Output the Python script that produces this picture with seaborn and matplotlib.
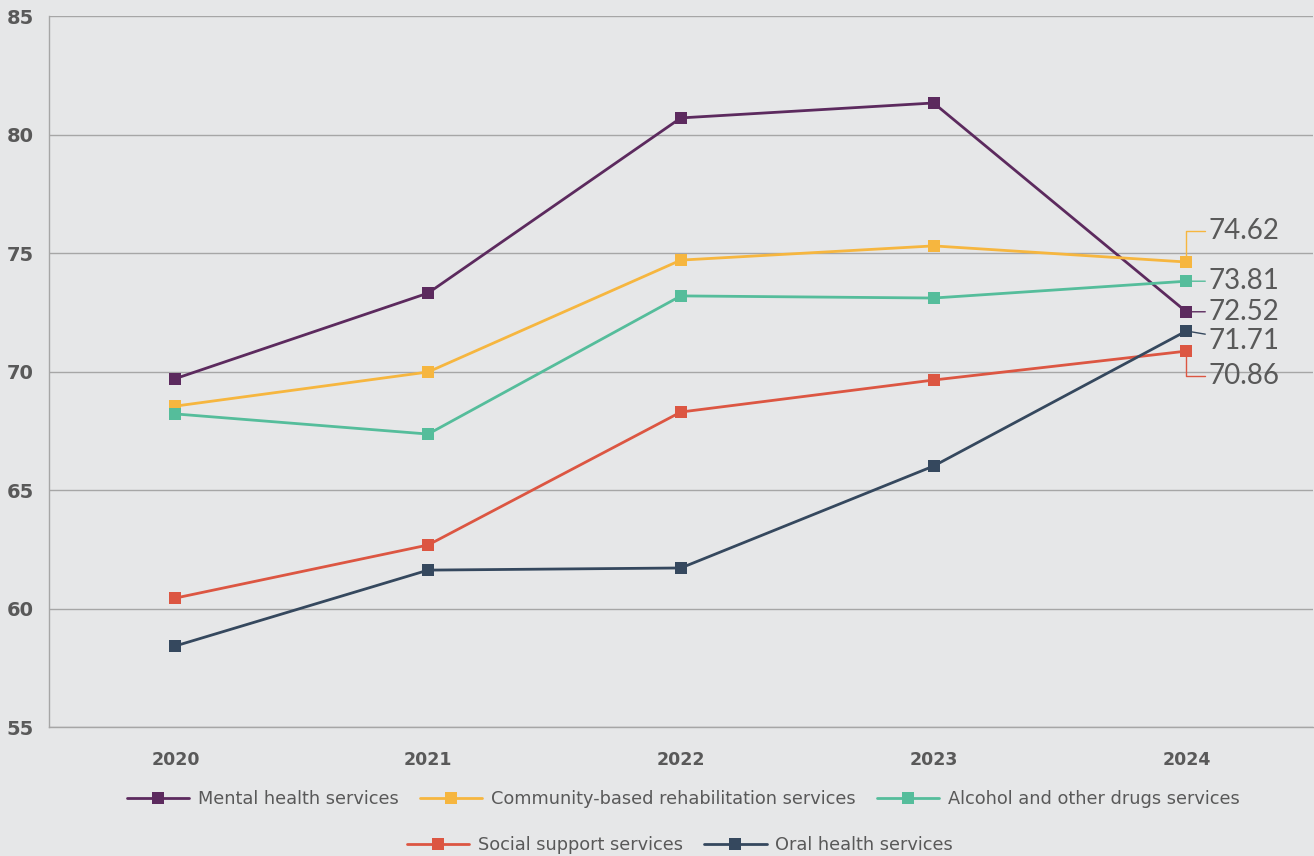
import matplotlib
matplotlib.use("Agg")
import matplotlib.pyplot as plt
import seaborn as sns
import pandas as pd

years = ["2020", "2021", "2022", "2023", "2024"]
mental_health = [69.70, 73.31, 80.70, 81.33, 72.52]
community_rehab = [68.54, 69.98, 74.70, 75.30, 74.62]
alcohol_drugs = [68.21, 67.36, 73.19, 73.10, 73.81]
social_support = [60.44, 62.68, 68.29, 69.64, 70.86]
oral_health = [58.42, 61.62, 61.71, 66.01, 71.71]

series_names = [
    "Mental health services",
    "Community-based rehabilitation services",
    "Alcohol and other drugs services",
    "Social support services",
    "Oral health services",
]
series_values = [mental_health, community_rehab, alcohol_drugs, social_support, oral_health]
colors = ["#5C2A5E", "#F6B63F", "#55BD9B", "#DC5642", "#35485E"]
y_ticks = [55, 60, 65, 70, 75, 80, 85]

# offsets (points) of the end-value labels relative to the 2024 marker
label_offsets = [(16, 0), (16, 22), (16, 0), (16, -18), (16, -7)]
label_styles = ["straight", "angle_up", "straight", "angle_down", "straight"]

bg = "#E6E7E8"
text_grey = "#595959"
grid_grey = "#A6A6A6"

sns.set_theme(style="white")
plt.rcParams["font.family"] = ["DejaVu Sans"]

rows = []
for name, vals in zip(series_names, series_values):
    for i, v in enumerate(vals):
        rows.append({"pos": i, "year": years[i], "series": name, "value": v})
df = pd.DataFrame(rows)

fig = plt.figure(figsize=(13.14, 8.56), dpi=100, facecolor=bg)
ax = fig.add_axes([0.0373, 0.1507, 0.9617, 0.8306])
ax.set_facecolor(bg)

sns.lineplot(
    data=df, x="pos", y="value", hue="series", hue_order=series_names,
    palette=colors, style="series", markers=["s"] * 5, dashes=False,
    markersize=9, markeredgewidth=0, linewidth=2.0, ax=ax, zorder=3,
)

handles, labels = ax.get_legend_handles_labels()
ax.get_legend().remove()

ax.set_xlim(-0.5, 4.5)
ax.set_ylim(55, 85)
ax.set_yticks(y_ticks)
ax.set_xticks(range(len(years)))
ax.set_xticklabels(years)
ax.set_xlabel("")
ax.set_ylabel("")
ax.grid(axis="y", color=grid_grey, linewidth=1.0)
ax.grid(axis="x", visible=False)
ax.set_axisbelow(True)
for side in ["top", "right"]:
    ax.spines[side].set_visible(False)
for side in ["left", "bottom"]:
    ax.spines[side].set_color(grid_grey)
    ax.spines[side].set_linewidth(1.0)
ax.tick_params(axis="x", length=0, pad=17, labelsize=12.5, labelcolor=text_grey)
ax.tick_params(axis="y", length=0, pad=11, labelsize=14, labelcolor=text_grey)
for lab in ax.get_xticklabels() + ax.get_yticklabels():
    lab.set_fontweight("bold")

# end-of-series value labels with leader lines
last = len(years) - 1
for vals, col, off, style in zip(series_values, colors, label_offsets, label_styles):
    v = vals[last]
    if style == "straight":
        cs = "arc3"
    else:
        cs = "angle,angleA=0,angleB=90,rad=0"
    ax.annotate(
        f"{v:.2f}", xy=(last, v), xytext=off, textcoords="offset points",
        ha="left", va="center", fontsize=20, color=text_grey, zorder=1.5,
        family=["Lato", "DejaVu Sans"],
        arrowprops=dict(arrowstyle="-", color=col, linewidth=1.0,
                        shrinkA=0, shrinkB=0, connectionstyle=cs),
    )

legend_kw = dict(frameon=False, labelcolor=text_grey,
                 prop={"family": ["DejaVu Sans"], "size": 12.8},
                 handlelength=3.5, handletextpad=0.5, columnspacing=1.2,
                 borderaxespad=0, borderpad=0)
fig.legend(handles[:3], labels[:3], loc="center", ncol=3,
           bbox_to_anchor=(0.520, 0.0666), **legend_kw)
fig.legend(handles[3:], labels[3:], loc="center", ncol=2,
           bbox_to_anchor=(0.5175, 0.0129), **legend_kw)

fig.savefig("out.png", dpi=100, facecolor=bg)
